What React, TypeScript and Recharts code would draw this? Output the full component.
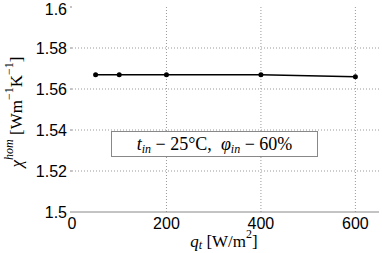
import { LineChart, Line, XAxis, YAxis, ReferenceLine } from "recharts";

// heat flux q_t [W/m2] vs homogenized conductivity
const qt = [50, 100, 200, 400, 600];
const chiHom = [1.567, 1.567, 1.567, 1.567, 1.566];

const xTicks = [0, 200, 400, 600];
const yTicks = [1.5, 1.52, 1.54, 1.56, 1.58, 1.6];
const xGrid = [200, 400, 600];
const yGrid = [1.52, 1.54, 1.56, 1.58];

const data = qt.map((q, i) => ({ q, chi: chiHom[i] }));

const tickFont = "'Liberation Sans', Arial, sans-serif";
const serif = "'Liberation Serif', 'DejaVu Serif', serif";

function YTick(props: any) {
    const { x, y, payload } = props;
    const label = String(+payload.value.toFixed(2));
    return (
        <text x={x - 1} y={y} dy="0.36em" textAnchor="end" style={{ fontFamily: tickFont, fontSize: 16 }} fill="#000">
            {label}
        </text>
    );
}

function XTick(props: any) {
    const { x, payload } = props;
    return (
        <text x={x} y={223} dy="0.36em" textAnchor="middle" style={{ fontFamily: tickFont, fontSize: 16 }} fill="#000">
            {payload.value}
        </text>
    );
}

const sub = { fontSize: 12, fontStyle: "italic" as const, verticalAlign: "-3px" };

export default function App() {
    return (
        <div style={{ position: "absolute", left: 0, top: 0, width: 382, height: 253, background: "#fff" }}>
            <LineChart width={382} height={253} data={data} margin={{ top: 7, right: 3, left: 0, bottom: 0 }}>
                {xGrid.map(v => (
                    <ReferenceLine key={"x" + v} x={v} stroke="#999" strokeDasharray="1 2" />
                ))}
                {yGrid.map(v => (
                    <ReferenceLine key={"y" + v} y={v} stroke="#999" strokeDasharray="1 2" />
                ))}
                <XAxis
                    dataKey="q"
                    type="number"
                    domain={[0, 650]}
                    ticks={xTicks}
                    height={41}
                    axisLine={{ stroke: "#888" }}
                    tickLine={false}
                    tick={<XTick />}
                    allowDataOverflow
                />
                <YAxis
                    type="number"
                    domain={[1.5, 1.6]}
                    ticks={yTicks}
                    width={72}
                    axisLine={false}
                    tickLine={{ stroke: "#888" }}
                    tickSize={2}
                    tick={<YTick />}
                    allowDataOverflow
                />
                <Line
                    type="linear"
                    dataKey="chi"
                    stroke="#000"
                    strokeWidth={1.5}
                    dot={{ r: 2.5, fill: "#000", stroke: "#000", strokeWidth: 0 }}
                    isAnimationActive={false}
                />
            </LineChart>
            {/* axis titles drawn in an overlay so the serif font sticks */}
            <svg width={382} height={253} style={{ position: "absolute", left: 0, top: 0, pointerEvents: "none" }}>
                <text x={16} y={112} transform="rotate(-90 16 112)" textAnchor="middle" dominantBaseline="central" fontFamily={serif} fontSize={17} fill="#000">
                    <tspan fontStyle="italic">χ</tspan>
                    <tspan fontStyle="italic" fontSize={12} dy={-7}>hom</tspan>
                    <tspan dy={7}> [Wm</tspan>
                    <tspan fontSize={12} dy={-7}>−1</tspan>
                    <tspan dy={7}>K</tspan>
                    <tspan fontSize={12} dy={-7}>−1</tspan>
                    <tspan dy={7}>]</tspan>
                </text>
                <text x={224} y={241} textAnchor="middle" dominantBaseline="central" fontFamily={serif} fontSize={17} fill="#000">
                    <tspan fontStyle="italic">q</tspan>
                    <tspan fontStyle="italic" fontSize={12} dy={4}>t</tspan>
                    <tspan dy={-4}> [W/m</tspan>
                    <tspan fontSize={12} dy={-7}>2</tspan>
                    <tspan dy={7}>]</tspan>
                </text>
            </svg>
            <div
                style={{
                    position: "absolute",
                    left: 111,
                    top: 131,
                    width: 207,
                    height: 26,
                    boxSizing: "border-box",
                    border: "1px solid #888",
                    background: "#fff",
                    fontFamily: serif,
                    fontSize: 18,
                    lineHeight: "24px",
                    textAlign: "center",
                    whiteSpace: "nowrap",
                }}
            >
                <i>t</i><sub style={sub}>in</sub> − 25°C,&nbsp; <i>φ</i><sub style={sub}>in</sub> − 60%
            </div>
        </div>
    );
}
